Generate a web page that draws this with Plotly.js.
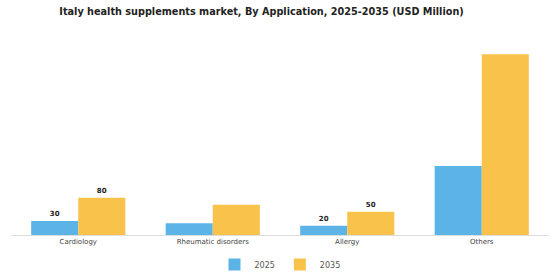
<!DOCTYPE html>
<html>
<head>
<meta charset="utf-8">
<script src="https://cdn.plot.ly/plotly-3.0.1.min.js"></script>
<style>html,body{margin:0;padding:0;background:#fff;}#chart{width:560px;height:280px;}</style>
</head>
<body>
<div id="chart"></div>
<script>
const categories = ["Cardiology", "Rheumatic disorders", "Allergy", "Others"];
const values2025 = [30, 25, 20, 148];
const values2035 = [80, 65, 50, 387];
const labels2025 = ["30", "", "20", ""];
const labels2035 = ["80", "", "50", ""];
const seriesNames = ["2025", "2035"];

const textFont = {family: "DejaVu Sans, sans-serif", size: 7, color: "#222", weight: "bold"};

const data = [
  {type: "bar", name: seriesNames[0], x: categories, y: values2025, text: labels2025,
   textposition: "outside", textfont: textFont, cliponaxis: false,
   marker: {color: "#5BB4E5"}, hoverinfo: "none"},
  {type: "bar", name: seriesNames[1], x: categories, y: values2035, text: labels2035,
   textposition: "outside", textfont: textFont, cliponaxis: false,
   marker: {color: "#F9C34B"}, hoverinfo: "none"}
];

const layout = {
  width: 560, height: 280,
  margin: {l: 11, r: 11, t: 45, b: 45, autoexpand: false},
  paper_bgcolor: "#fff", plot_bgcolor: "#fff",
  title: {text: "<b>Italy health supplements market, By Application, 2025-2035 (USD Million)</b>",
          font: {family: "DejaVu Sans, sans-serif", size: 9.7, color: "#222"},
          x: 0.467, xanchor: "center", yref: "container", y: 0.96, yanchor: "middle"},
  barmode: "group", bargap: 0.3, bargroupgap: 0,
  xaxis: {showline: true, linecolor: "#ddd", linewidth: 1, ticks: "", showgrid: false,
          tickfont: {family: "DejaVu Sans, sans-serif", size: 7, color: "#444"}},
  yaxis: {visible: false, range: [0, 407], showgrid: false, zeroline: false},
  showlegend: true,
  legend: {orientation: "h", x: 0.5, xanchor: "center", yref: "container", y: 0.055, yanchor: "middle",
           font: {family: "DejaVu Sans, sans-serif", size: 8, color: "#555"}}
};

Plotly.newPlot("chart", data, layout, {staticPlot: true, displayModeBar: false});
</script>
</body>
</html>
